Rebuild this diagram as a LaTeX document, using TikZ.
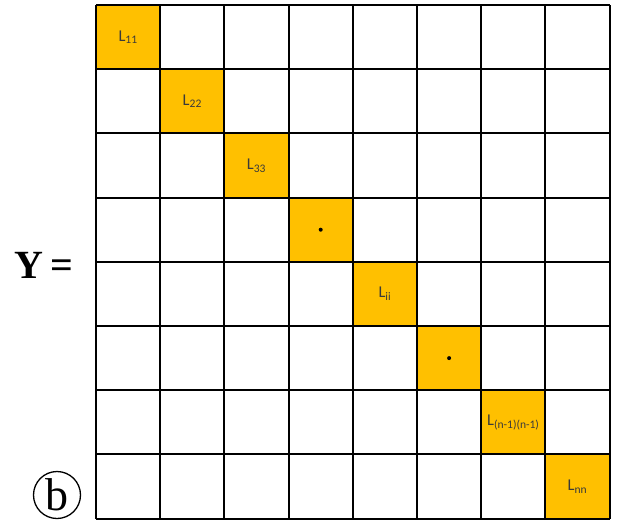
\documentclass[tikz,border=0pt]{standalone}
\usepackage{fontspec}
\setmainfont{Liberation Serif}
\newfontfamily\cellfont{Carlito}
\definecolor{gold}{HTML}{FFC000}
\definecolor{labelc}{HTML}{3A3A3A}
\begin{document}
\begin{tikzpicture}[x=1pt,y=-1pt,
  gridline/.style={line width=2pt,black},
  diagcell/.style={fill=gold,draw=none},
  lbl/.style={font=\cellfont\fontsize{16.5}{19}\selectfont,text=labelc,inner sep=0pt},
  dotmark/.style={circle,fill=black,inner sep=0pt,minimum size=4pt},
  bigtext/.style={font=\bfseries\fontsize{40}{44}\selectfont,inner sep=0pt},
  circlab/.style={circle,draw,line width=1.3pt,minimum size=47pt,inner sep=0pt,font=\fontsize{46}{50}\selectfont}
]
\useasboundingbox (0,0) rectangle (617,520);
\def\xo{96}\def\yo{5}\def\cs{64.2}
% diagonal fills
\foreach \i in {0,...,7}{
  \fill[gold] ({\xo+\cs*\i},{\yo+\cs*\i}) rectangle ({\xo+\cs*(\i+1)},{\yo+\cs*(\i+1)});
}
% grid
\foreach \i in {0,...,8}{
  \draw[gridline] ({\xo+\cs*\i},\yo) -- ({\xo+\cs*\i},{\yo+8*\cs});
  \draw[gridline] (\xo,{\yo+\cs*\i}) -- ({\xo+8*\cs},{\yo+\cs*\i});
}
% labels
\node[lbl] (l11) at ({\xo+\cs*0.5},{\yo+\cs*0.5}) {L\textsubscript{11}};
\node[lbl] (l22) at ({\xo+\cs*1.5},{\yo+\cs*1.5}) {L\textsubscript{22}};
\node[lbl] (l33) at ({\xo+\cs*2.5},{\yo+\cs*2.5}) {L\textsubscript{33}};
\node[dotmark] (d1) at ({\xo+\cs*3.5},{\yo+\cs*3.5}) {};
\node[lbl] (lii) at ({\xo+\cs*4.5},{\yo+\cs*4.5}) {L\textsubscript{ii}};
\node[dotmark] (d2) at ({\xo+\cs*5.5},{\yo+\cs*5.5}) {};
\node[lbl] (lnm) at ({\xo+\cs*6.5},{\yo+\cs*6.5}) {L\textsubscript{(n-1)(n-1)}};
\node[lbl] (lnn) at ({\xo+\cs*7.5},{\yo+\cs*7.5}) {L\textsubscript{nn}};
% Y =
\node[bigtext] (Y) at (44,265) {Y\,=};
% (b)
\node[circlab] (b) at (57,495) {b};
\end{tikzpicture}
\end{document}
